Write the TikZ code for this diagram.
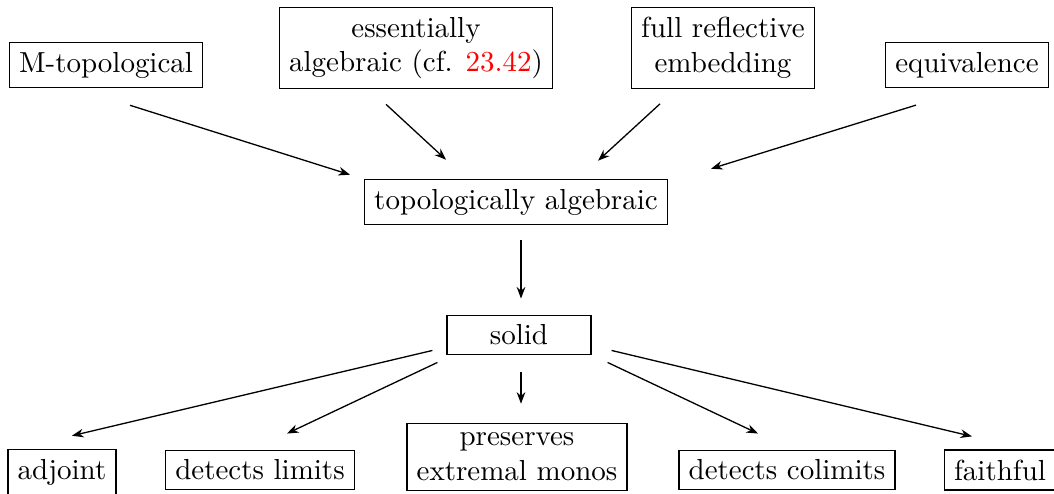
\documentclass[tikz,border=0pt]{standalone}
\usetikzlibrary{arrows.meta}
\begin{document}
\begin{tikzpicture}[
    x=0.345pt, y=-0.345pt,
    prop/.style={draw, line width=0.4pt, align=center},
    imp/.style={line width=0.45pt, -{Stealth[length=4pt,width=3pt]}}
]
\useasboundingbox (0,0) rectangle (1054,493);

% Top row: what implies topologically algebraic
\node[prop] (mtop)  at (106,65)  {M-topological};
\node[prop] (ess)   at (416,48)  {essentially\\algebraic (cf. \textcolor{red}{23.42})};
\node[prop] (full)  at (723,48)  {full reflective\\embedding};
\node[prop] (equiv) at (967,65)  {equivalence};

% Middle column
\node[prop] (topalg) at (516,202) {topologically algebraic};
\node[prop, minimum width=49.7pt] (solid) at (519,335) {solid};

% Bottom row: consequences of solid
\node[prop] (adj)   at (62,472)  {adjoint};
\node[prop] (lim)   at (260,470) {detects limits};
\node[prop] (pres)  at (517,457) {preserves\\extremal monos};
\node[prop] (colim) at (787,470) {detects colimits};
\node[prop] (faith) at (1000,470) {faithful};

\draw[imp] ([shift={(24,17)}]mtop.south)   -- ([shift={(-14,-4)}]topalg.north west);
\draw[imp] ([shift={(-30,15)}]ess.south)   -- ([shift={(-70,-19)}]topalg.north);
\draw[imp] ([shift={(-63,15)}]full.south)  -- ([shift={(82,-18)}]topalg.north);
\draw[imp] ([shift={(-51,17)}]equiv.south) -- ([shift={(43,-10)}]topalg.north east);

\draw[imp] ([shift={(5,15)}]topalg.south) -- ([shift={(2,-16)}]solid.north);

\draw[imp] ([shift={(-14,-5)}]solid.south west) -- ([shift={(10,-13)}]adj.north);
\draw[imp] ([shift={(-9,7)}]solid.south west)   -- ([shift={(27,-16)}]lim.north);
\draw[imp] ([shift={(2,17)}]solid.south)        -- ([shift={(4,-19)}]pres.north);
\draw[imp] ([shift={(16,7)}]solid.south east)   -- ([shift={(-29,-16)}]colim.north);
\draw[imp] ([shift={(20,-5)}]solid.south east)  -- ([shift={(-28,-13)}]faith.north);

\end{tikzpicture}
\end{document}
